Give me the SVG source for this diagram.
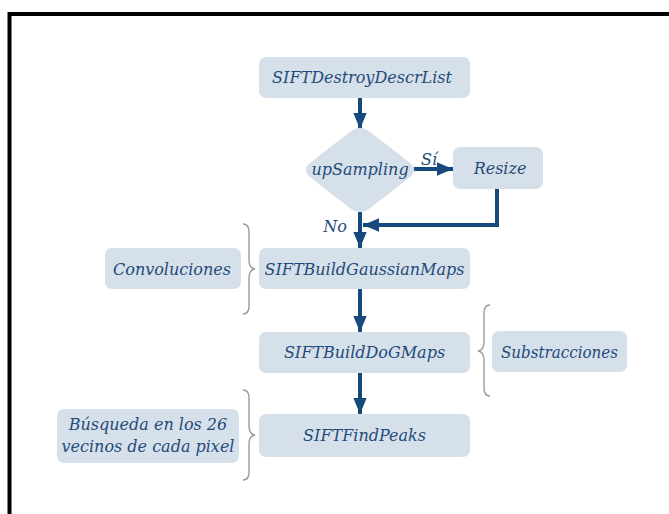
<svg xmlns="http://www.w3.org/2000/svg" width="669" height="514" viewBox="0 0 669 514">
  <defs>
    <style>
      .box { fill: #d6e0ea; }
      .lbl { font-family: "DejaVu Serif", "Liberation Serif", serif; font-style: italic; font-size: 16px; fill: #1f4b7a; text-anchor: middle; }
      .flow { fill: none; stroke: #174a7c; stroke-width: 4; }
      .brace { fill: none; stroke: #9a9a9a; stroke-width: 1.4; }
    </style>
    <marker id="head" viewBox="0 0 12 10" refX="12" refY="5" markerWidth="4.1" markerHeight="3.4" orient="auto" markerUnits="strokeWidth">
      <path d="M0,0 L12,5 L0,10 Z" fill="#174a7c"/>
    </marker>
  </defs>

  <rect x="0" y="0" width="669" height="514" fill="#ffffff"/>
  <!-- outer frame -->
  <rect x="9.5" y="14" width="680" height="520" fill="none" stroke="#000000" stroke-width="4"/>

  <!-- connectors -->
  <g id="connectors">
    <path class="flow" d="M360,98 L360,129" marker-end="url(#head)"/>
    <path class="flow" d="M414,169 L453,169" marker-end="url(#head)"/>
    <path class="flow" d="M497,189 L497,225 L363,225" marker-end="url(#head)"/>
    <path class="flow" d="M360,212 L360,248" marker-end="url(#head)"/>
    <path class="flow" d="M360,289 L360,332" marker-end="url(#head)"/>
    <path class="flow" d="M360,373 L360,414" marker-end="url(#head)"/>
    <text class="lbl" x="429" y="165">Sí</text>
    <text class="lbl" x="335" y="232">No</text>
  </g>

  <!-- braces -->
  <g id="braces">
    <path class="brace" d="M243,224 Q249,224 249,232 L249,260 Q249,268 255,269 Q249,270 249,278 L249,306 Q249,314 243,314"/>
    <path class="brace" d="M490,305 Q484,305 484,313 L484,342 Q484,350 478,351 Q484,352 484,360 L484,388 Q484,396 490,396"/>
    <path class="brace" d="M243,390 Q249,390 249,398 L249,426 Q249,434 255,435 Q249,436 249,444 L249,472 Q249,480 243,480"/>
  </g>

  <g id="destroy">
    <rect class="box" x="259" y="57" width="211" height="41" rx="7"/>
    <text class="lbl" x="362" y="83">SIFTDestroyDescrList</text>
  </g>

  <g id="upsampling">
    <path class="box" d="M350.5,131.4 Q360,124 369.5,131.4 L409.5,162.6 Q419,170 409.5,177.4 L369.5,208.6 Q360,216 350.5,208.6 L310.5,177.4 Q301,170 310.5,162.6 Z"/>
    <text class="lbl" x="360" y="175">upSampling</text>
  </g>

  <g id="resize">
    <rect class="box" x="453" y="147" width="90" height="42" rx="7"/>
    <text class="lbl" x="500" y="174">Resize</text>
  </g>

  <g id="gaussian">
    <rect class="box" x="259" y="248" width="211" height="41" rx="7"/>
    <text class="lbl" x="364.5" y="275">SIFTBuildGaussianMaps</text>
  </g>

  <g id="convoluciones">
    <rect class="box" x="105" y="248" width="136" height="41" rx="7"/>
    <text class="lbl" x="172" y="275">Convoluciones</text>
  </g>

  <g id="dog">
    <rect class="box" x="259" y="332" width="211" height="41" rx="7"/>
    <text class="lbl" x="364.5" y="358">SIFTBuildDoGMaps</text>
  </g>

  <g id="substracciones">
    <rect class="box" x="492" y="331" width="135" height="41" rx="7"/>
    <text class="lbl" x="559.5" y="358" textLength="117" lengthAdjust="spacingAndGlyphs">Substracciones</text>
  </g>

  <g id="findpeaks">
    <rect class="box" x="259" y="414" width="211" height="43" rx="7"/>
    <text class="lbl" x="364.5" y="441">SIFTFindPeaks</text>
  </g>

  <g id="busqueda">
    <rect class="box" x="57" y="409" width="182" height="54" rx="7"/>
    <text class="lbl" x="148" y="430">Búsqueda en los 26</text>
    <text class="lbl" x="148" y="452">vecinos de cada pixel</text>
  </g>
</svg>
